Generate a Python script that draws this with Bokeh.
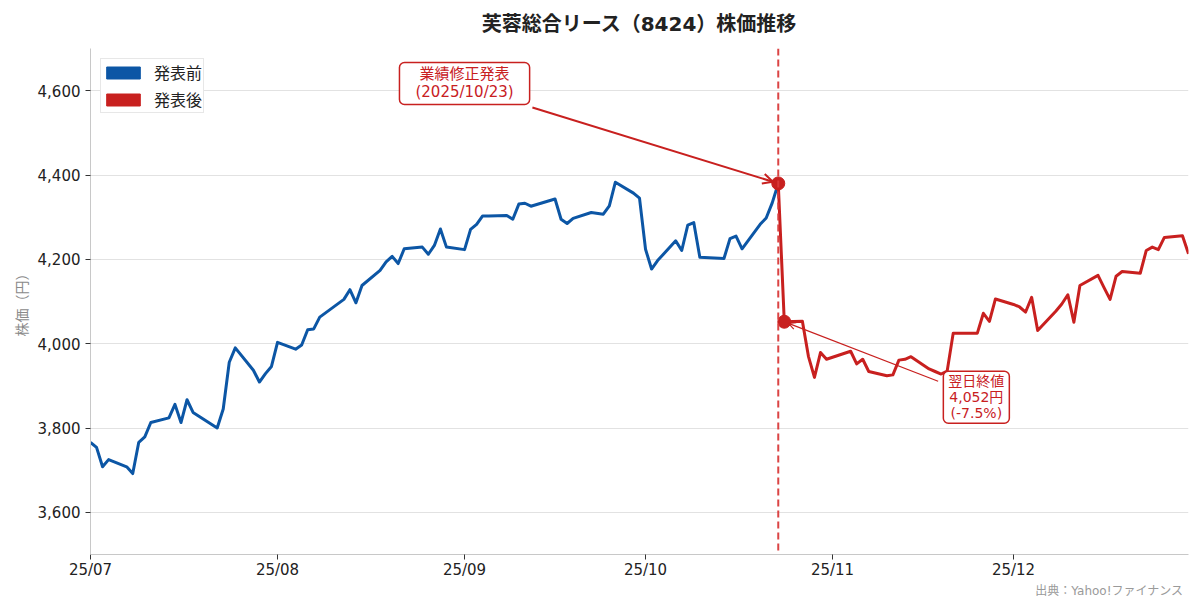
import pandas as pd
from bokeh.plotting import figure
from bokeh.models import (Range1d, FixedTicker, NumeralTickFormatter, DatetimeTickFormatter,
                          Span, Label, Arrow, OpenHead, Legend, LegendItem, Title)
from bokeh.embed import file_html
from bokeh.resources import INLINE

FONT = "DejaVu Sans, Noto Sans CJK JP"
BLUE = "#0c56a5"
RED = "#c8201f"

title_text = "芙蓉総合リース（8424）株価推移"
y_label = "株価（円）"
source_text = "出典：Yahoo!ファイナンス"
legend_labels = ["発表前", "発表後"]
note1_text = "業績修正発表\n(2025/10/23)"
note2_text = "翌日終値\n4,052円\n(-7.5%)"

pre_dates = [
    "2025-07-01", "2025-07-02", "2025-07-03", "2025-07-04", "2025-07-07", "2025-07-08",
    "2025-07-09", "2025-07-10", "2025-07-11", "2025-07-14", "2025-07-15", "2025-07-16",
    "2025-07-17", "2025-07-18", "2025-07-22", "2025-07-23", "2025-07-24", "2025-07-25",
    "2025-07-28", "2025-07-29", "2025-07-30", "2025-07-31",
    "2025-08-01", "2025-08-04", "2025-08-05", "2025-08-06", "2025-08-07", "2025-08-08",
    "2025-08-12", "2025-08-13", "2025-08-14", "2025-08-15", "2025-08-18", "2025-08-19",
    "2025-08-20", "2025-08-21", "2025-08-22", "2025-08-25", "2025-08-26", "2025-08-27",
    "2025-08-28", "2025-08-29",
    "2025-09-01", "2025-09-02", "2025-09-03", "2025-09-04", "2025-09-05", "2025-09-08",
    "2025-09-09", "2025-09-10", "2025-09-11", "2025-09-12", "2025-09-16", "2025-09-17",
    "2025-09-18", "2025-09-19", "2025-09-22", "2025-09-24", "2025-09-25", "2025-09-26",
    "2025-09-29", "2025-09-30",
    "2025-10-01", "2025-10-02", "2025-10-03", "2025-10-06", "2025-10-07", "2025-10-08",
    "2025-10-09", "2025-10-10", "2025-10-14", "2025-10-15", "2025-10-16", "2025-10-17",
    "2025-10-20", "2025-10-21", "2025-10-22", "2025-10-23",
]
pre_values = [
    3766, 3754, 3708, 3725, 3708, 3692,
    3766, 3779, 3813, 3824, 3856, 3813,
    3867, 3837, 3800, 3845, 3956, 3990,
    3937, 3909, 3929, 3946,
    4003, 3987, 3997, 4033, 4035, 4063,
    4105, 4128, 4097, 4138, 4174, 4194,
    4207, 4190, 4225, 4229, 4212, 4233,
    4272, 4229,
    4223, 4271, 4283, 4303, 4303, 4304,
    4295, 4331, 4333, 4326, 4343, 4295,
    4285, 4297, 4311, 4307, 4327, 4383,
    4357, 4345,
    4224, 4177, 4197, 4244, 4221, 4281,
    4287, 4205, 4202, 4249, 4255, 4225,
    4283, 4298, 4334, 4380,
]

post_dates = [
    "2025-10-23", "2025-10-24", "2025-10-27", "2025-10-28", "2025-10-29", "2025-10-30",
    "2025-10-31",
    "2025-11-04", "2025-11-05", "2025-11-06", "2025-11-07", "2025-11-10", "2025-11-11",
    "2025-11-12", "2025-11-13", "2025-11-14", "2025-11-17", "2025-11-18", "2025-11-19",
    "2025-11-20", "2025-11-21", "2025-11-25", "2025-11-26", "2025-11-27", "2025-11-28",
    "2025-12-01", "2025-12-02", "2025-12-03", "2025-12-04", "2025-12-05", "2025-12-08",
    "2025-12-09", "2025-12-10", "2025-12-11", "2025-12-12", "2025-12-15", "2025-12-16",
    "2025-12-17", "2025-12-18", "2025-12-19", "2025-12-22", "2025-12-23", "2025-12-24",
    "2025-12-25", "2025-12-26", "2025-12-29", "2025-12-30",
]
post_values = [
    4380, 4052, 4053, 3970, 3920, 3979,
    3963,
    3982, 3952, 3963, 3934, 3924, 3926,
    3961, 3963, 3969, 3940, 3934, 3928,
    3935, 4025, 4025, 4072, 4053, 4106,
    4093, 4087, 4075, 4110, 4031, 4077,
    4094, 4116, 4051, 4138, 4162, 4133,
    4105, 4160, 4171, 4167, 4221, 4229,
    4223, 4252, 4256, 4213,
]

x_tick_dates = ["2025-07-01", "2025-08-01", "2025-09-01", "2025-10-01", "2025-11-01", "2025-12-01"]
y_ticks = [3600, 3800, 4000, 4200, 4400, 4600]
x_start, x_end = "2025-07-01", "2025-12-30"
y_start, y_end = 3500, 4700

# annotation box anchors (date, price)
note1_pos = ("2025-09-01", 4617)
note2_pos = ("2025-11-24 20:00", 3873)
arrow1_from = ("2025-09-12 06:00", 4560)
arrow2_from = ("2025-11-18 12:00", 3911)


def ms(d):
    return pd.Timestamp(d).value / 1e6


pre_x = pd.to_datetime(pre_dates)
post_x = pd.to_datetime(post_dates)
nan = float("nan")

p = figure(width=1192, height=598, x_axis_type="datetime",
           x_range=Range1d(ms(x_start), ms(x_end)), y_range=Range1d(y_start, y_end),
           output_backend="svg", toolbar_location=None,
           min_border_left=90, min_border_right=4, min_border_top=48, min_border_bottom=44)

p.title.text = title_text
p.title.align = "center"
p.title.vertical_align = "top"
p.title.standoff = 21
p.title.text_font = FONT
p.title.text_font_size = "20px"
p.title.text_font_style = "bold"
p.title.text_color = "#222222"

p.outline_line_color = None
p.background_fill_color = "white"
p.xgrid.visible = False
p.ygrid.ticker = FixedTicker(ticks=y_ticks)
p.ygrid.grid_line_color = "#e2e2e2"
p.ygrid.grid_line_width = 1

p.xaxis.ticker = FixedTicker(ticks=[ms(d) for d in x_tick_dates])
p.xaxis.formatter = DatetimeTickFormatter(days="%y/%m", months="%y/%m", years="%y/%m",
                                          hours="%y/%m", minutes="%y/%m", seconds="%y/%m",
                                          milliseconds="%y/%m", microseconds="%y/%m", minsec="%y/%m",
                                          hourmin="%y/%m")
p.yaxis.ticker = FixedTicker(ticks=y_ticks)
p.yaxis.formatter = NumeralTickFormatter(format="0,0")

for ax in (p.xaxis[0], p.yaxis[0]):
    ax.axis_line_color = "#c8c8c8"
    ax.axis_line_width = 1
    ax.major_tick_line_color = "#333333"
    ax.major_tick_out = 5
    ax.major_tick_in = 0
    ax.minor_tick_line_color = None
    ax.major_label_text_font = FONT
    ax.major_label_text_font_size = "15px"
    ax.major_label_text_color = "#222222"
p.xaxis.major_label_standoff = 1

p.yaxis.axis_label = y_label
p.yaxis.axis_label_text_font = FONT
p.yaxis.axis_label_text_font_size = "14px"
p.yaxis.axis_label_text_font_style = "normal"
p.yaxis.axis_label_text_color = "#8a8a8a"

# event line
p.add_layout(Span(location=ms(post_dates[0]), dimension="height", line_color="#d93a3a",
                  line_width=2, line_dash="7 4", line_alpha=0.95))

p.line(pre_x, pre_values, line_color=BLUE, line_width=3, line_join="round")
p.line(post_x, post_values, line_color=RED, line_width=3, line_join="round")
p.scatter(post_x[:2], post_values[:2], size=13, fill_color=RED, line_color=RED)

# legend swatches (no visible data of their own)
q1 = p.quad(left=[nan], right=[nan], top=[nan], bottom=[nan], fill_color=BLUE, line_color=BLUE)
q2 = p.quad(left=[nan], right=[nan], top=[nan], bottom=[nan], fill_color=RED, line_color=RED)
legend = Legend(items=[LegendItem(label=legend_labels[0], renderers=[q1]),
                       LegendItem(label=legend_labels[1], renderers=[q2])],
                location="top_left", glyph_width=42, glyph_height=15, label_height=20,
                spacing=3, label_standoff=10, padding=1, margin=10,
                label_text_font=FONT, label_text_font_size="16px", label_text_color="#222222",
                border_line_color="#d0d0d0", border_line_width=1, background_fill_alpha=1)
p.add_layout(legend)

# annotation 1
p.add_layout(Arrow(end=OpenHead(size=10, line_color=RED, line_width=2),
                   x_start=ms(arrow1_from[0]), y_start=arrow1_from[1],
                   x_end=ms(post_dates[0]) - 0.9 * 86400000, y_end=post_values[0] + 4,
                   line_color=RED, line_width=2))
p.add_layout(Label(x=ms(note1_pos[0]), y=note1_pos[1], text=note1_text,
                   text_align="center", text_baseline="middle", text_color=RED,
                   text_font=FONT, text_font_size="15px", text_line_height=1.0,
                   background_fill_color="white", border_line_color=RED, border_line_width=1.5,
                   border_radius=5, padding=dict(left=16, right=16, top=3, bottom=3)))

# annotation 2
p.add_layout(Arrow(end=OpenHead(size=7, line_color=RED, line_width=1.2),
                   x_start=ms(arrow2_from[0]), y_start=arrow2_from[1],
                   x_end=ms(post_dates[1]) + 0.7 * 86400000, y_end=post_values[1] - 4,
                   line_color=RED, line_width=1.2))
p.add_layout(Label(x=ms(note2_pos[0]), y=note2_pos[1], text=note2_text,
                   text_align="center", text_baseline="middle", text_color=RED,
                   text_font=FONT, text_font_size="14px", text_line_height=1.0,
                   background_fill_color="white", border_line_color=RED, border_line_width=1.5,
                   border_radius=5, padding=dict(left=5, right=5, top=2, bottom=2)))

# source note below the x axis, right aligned
p.add_layout(Title(text=source_text, align="right", vertical_align="bottom", standoff=0,
                   offset=5, text_font=FONT, text_font_size="12px",
                   text_font_style="normal", text_color="#9a9a9a"), "below")

open("out.html", "w").write(file_html(p, INLINE))
